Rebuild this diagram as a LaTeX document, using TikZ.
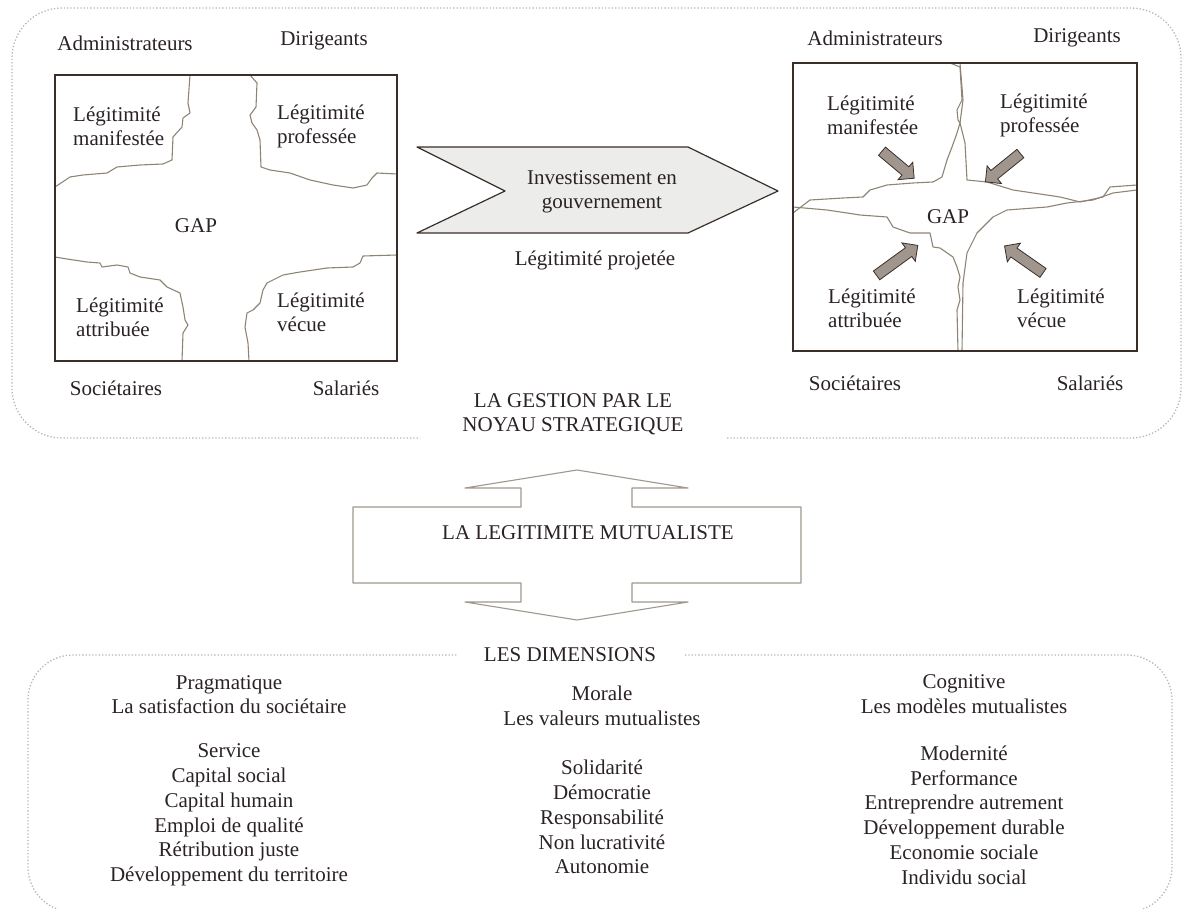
\documentclass[tikz,border=0pt]{standalone}
\usepackage{fontspec}
\setmainfont{Liberation Serif}
\usetikzlibrary{shapes.arrows}
\definecolor{ink}{HTML}{2B2323}
\definecolor{frame}{HTML}{3A2E2A}
\definecolor{wave}{HTML}{8E8474}
\definecolor{dots}{HTML}{BDB6A8}
\definecolor{arrfill}{HTML}{A0968E}
\definecolor{chevfill}{HTML}{ECECEA}
\definecolor{dbl}{HTML}{9E988E}
\begin{document}
\begin{tikzpicture}[x=1pt,y=-1pt,
  every node/.style={text=ink, font=\fontsize{21}{24}\selectfont, inner sep=0pt},
  leg/.style={align=left, anchor=west},
  grp/.style={align=center, font=\fontsize{21}{24.8}\selectfont},
  ttl/.style={align=center, font=\fontsize{21}{24.5}\selectfont},
  gapbox/.style={draw=frame, line width=1.4pt},
  wavy/.style={draw=wave, line width=1.1pt, line join=round},
  dotframe/.style={draw=dots, dotted, line width=1.3pt},
  chev/.style={draw=frame, fill=chevfill, line width=1.2pt, line join=round},
  dblarrow/.style={draw=dbl, line width=1.1pt, line join=round},
  fatarr/.style={single arrow, draw=frame, fill=arrfill, line width=0.8pt,
    minimum width=22pt, single arrow head extend=6pt, inner xsep=0pt, inner ysep=5pt},
]
\useasboundingbox (0,0) rectangle (1184,909);

% outer dotted frames
\draw[dotframe, rounded corners=50pt] (727,438) -- (1181,438) -- (1181,8) -- (12,8) -- (12,438) -- (420,438);
\draw[dotframe, rounded corners=45pt] (685,655) -- (1172,655) -- (1172,912) -- (28,912) -- (28,655) -- (457,655);

% ---------- left box ----------
\draw[wavy] (190,75) -- (188,103) -- (190,113) -- (183,118) -- (182,127) -- (173,137) -- (172,160) -- (163,164) -- (140,165) -- (117,167) -- (107,173) -- (83,175) -- (70,177) -- (55,187);
\draw[wavy] (250,75) -- (257,83) -- (256,107) -- (250,115) -- (252,123) -- (257,130) -- (260,140) -- (261,167) -- (270,170) -- (290,173) -- (310,180) -- (333,185) -- (353,188) -- (367,185) -- (372,178) -- (377,173) -- (397,174);
\draw[wavy] (55,257) -- (67,259) -- (87,262) -- (100,263) -- (102,267) -- (117,265) -- (128,267) -- (130,273) -- (140,277) -- (160,280) -- (167,287) -- (180,293) -- (183,307) -- (185,320) -- (188,325) -- (183,333) -- (182,361);
\draw[wavy] (397,255) -- (363,256) -- (360,263) -- (353,267) -- (327,268) -- (300,272) -- (283,275) -- (267,283) -- (263,290) -- (260,303) -- (253,310) -- (247,313) -- (245,327) -- (248,343) -- (249,361);
\node[gapbox, minimum width=342pt, minimum height=286pt] (boxL) at (226,218) {};

\node (admL) at (125,43) {Administrateurs};
\node (dirL) at (324,41) {Dirigeants};
\node (socL) at (116,388) {Sociétaires};
\node (salL) at (346,388) {Salariés};
\node[leg] (manL) at (73,126) {Légitimité\\manifestée};
\node[leg] (proL) at (277,126) {Légitimité\\professée};
\node[leg] (attL) at (76,317) {Légitimité\\attribuée};
\node[leg] (vecL) at (277,312) {Légitimité\\vécue};
\node (gapL) at (196,226) {GAP};

% ---------- chevron ----------
\draw[chev] (417,147) -- (688,147) -- (778,191) -- (688,233) -- (417,233) -- (505,191) -- cycle;
\node[align=center] (inv) at (602,192) {Investissement en\\gouvernement};
\node (proj) at (595,260) {Légitimité projetée};

% ---------- right box ----------
\draw[wavy] (950,63) -- (960,67) -- (962,100) -- (957,110) -- (958,120) -- (960,123) -- (957,133) -- (952,147) -- (947,160) -- (942,177) -- (933,182) -- (913,183) -- (887,185) -- (870,190) -- (863,197) -- (843,198) -- (810,200) -- (793,213);
\draw[wavy] (960,63) -- (963,100) -- (960,123) -- (965,143) -- (967,180) -- (987,182) -- (1013,190) -- (1060,197) -- (1080,202) -- (1103,197) -- (1110,187) -- (1137,185);
\draw[wavy] (793,207) -- (827,210) -- (847,213) -- (860,215) -- (887,217) -- (893,227) -- (910,233) -- (930,233) -- (933,247) -- (940,248) -- (953,257) -- (957,267) -- (960,277) -- (958,287) -- (960,300) -- (957,310) -- (958,351);
\draw[wavy] (1137,190) -- (1113,193) -- (1093,200) -- (1067,203) -- (1047,207) -- (1007,210) -- (993,217) -- (977,233) -- (967,253) -- (963,283) -- (962,351);
\node[gapbox, minimum width=344pt, minimum height=288pt] (boxR) at (965,207) {};

\node (admR) at (875,38) {Administrateurs};
\node (dirR) at (1077,38) {Dirigeants};
\node (socR) at (855,383) {Sociétaires};
\node (salR) at (1090,383) {Salariés};
\node[leg] (manR) at (827,115) {Légitimité\\manifestée};
\node[leg] (proR) at (1000,115) {Légitimité\\professée};
\node[leg] (attR) at (828,308) {Légitimité\\attribuée};
\node[leg] (vecR) at (1017,308) {Légitimité\\vécue};
\node (gapR) at (948,217) {GAP};

\node[fatarr, rotate=-40, minimum height=42pt] (fa1) at (896,163) {};
\node[fatarr, rotate=-141, minimum height=45pt] (fa2) at (1005,166) {};
\node[fatarr, rotate=36, minimum height=51pt] (fa3) at (895,262) {};
\node[fatarr, rotate=145, minimum height=47pt] (fa4) at (1026,261) {};

% ---------- middle ----------
\node[ttl] (gest) at (573,414) {LA GESTION PAR LE\\NOYAU STRATEGIQUE};
\draw[dblarrow] (577,470) -- (688,488) -- (632,488) -- (632,507) -- (801,507) -- (801,583) -- (632,583) -- (632,602) -- (688,602) -- (577,620) -- (465,602) -- (521,602) -- (521,583) -- (353,583) -- (353,507) -- (521,507) -- (521,488) -- (465,488) -- cycle;
\node (legit) at (588,533) {LA LEGITIMITE MUTUALISTE};
\node (dims) at (570,655) {LES DIMENSIONS};

% ---------- bottom ----------
\node[ttl] (pragT) at (229,694.5) {Pragmatique\\La satisfaction du sociétaire};
\node[grp] (pragL) at (229,815) {Service\\Capital social\\Capital humain\\Emploi de qualité\\Rétribution juste\\Développement du territoire};
\node[ttl] (morT) at (602,706) {Morale\\Les valeurs mutualistes};
\node[grp] (morL) at (602,817) {Solidarité\\Démocratie\\Responsabilité\\Non lucrativité\\Autonomie};
\node[ttl] (cogT) at (964,694) {Cognitive\\Les modèles mutualistes};
\node[grp] (cogL) at (964,815) {Modernité\\Performance\\Entreprendre autrement\\Développement durable\\Economie sociale\\Individu social};
\end{tikzpicture}
\end{document}
